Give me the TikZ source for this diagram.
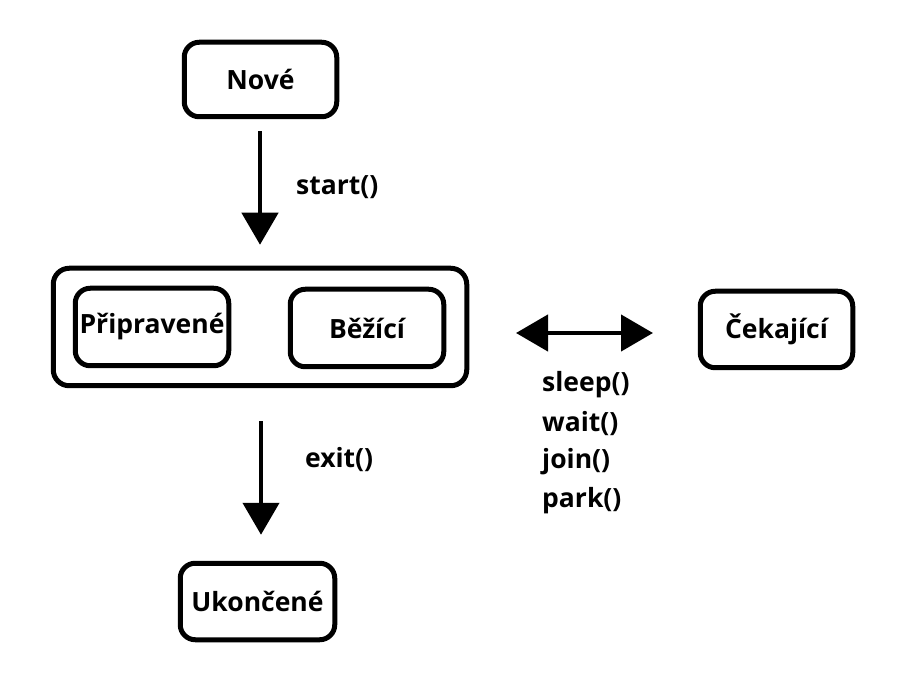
\documentclass[tikz,border=0pt]{standalone}
\usepackage{fontspec}
\setmainfont{Open Sans}
\usetikzlibrary{arrows.meta}
\begin{document}
\begin{tikzpicture}[x=1pt,y=-1pt,
  box/.style={draw,line width=5pt,rounded corners=15pt,inner sep=0pt,
    font=\fontsize{26.5}{31}\selectfont\bfseries},
  lbl/.style={inner sep=0pt,anchor=west,font=\fontsize{26.5}{31}\selectfont\bfseries},
  arr/.style={line width=4.5pt,-{Triangle[length=32pt,width=36pt]}},
  darr/.style={line width=4.5pt,{Triangle[length=32pt,width=36pt]}-{Triangle[length=32pt,width=36pt]}}]
\useasboundingbox (0,0) rectangle (916,684);
\node[box,minimum width=152.5pt,minimum height=74.5pt] (nove) at (260.5,79.5) {Nové};
\node[draw,line width=5pt,rounded corners=16pt,minimum width=413.5pt,minimum height=117.5pt,inner sep=0pt] (outer) at (260,327) {};
\node[box,minimum width=153.5pt,minimum height=77.5pt] (prip) at (152,327) {Připravené};
\node[box,minimum width=153.5pt,minimum height=77.5pt] (bezi) at (367,328) {Běžící};
\node[box,minimum width=152.5pt,minimum height=76.5pt] (ceka) at (776.5,329.5) {Čekající};
\node[box,minimum width=154.5pt,minimum height=76.5pt] (ukon) at (257.5,601.5) {Ukončené};
\draw[arr,shorten <=12pt,shorten >=21pt] (nove.south -| 260,0) -- (outer.north -| 260,0);
\draw[arr,shorten <=33pt,shorten >=26pt] (outer.south -| 261,0) -- (ukon.north -| 261,0);
\coordinate (dl) at (516,333);
\coordinate (dr) at (653,333);
\draw[darr] (dl) -- (dr);
\node[lbl] (lstart) at (296,187) {start()};
\node[lbl] (lexit) at (305,460) {exit()};
\node[lbl] (l1) at (542,385) {sleep()};
\node[lbl] (l2) at (542,424) {wait()};
\node[lbl] (l3) at (542,462) {join()};
\node[lbl] (l4) at (542,501) {park()};
\end{tikzpicture}
\end{document}
